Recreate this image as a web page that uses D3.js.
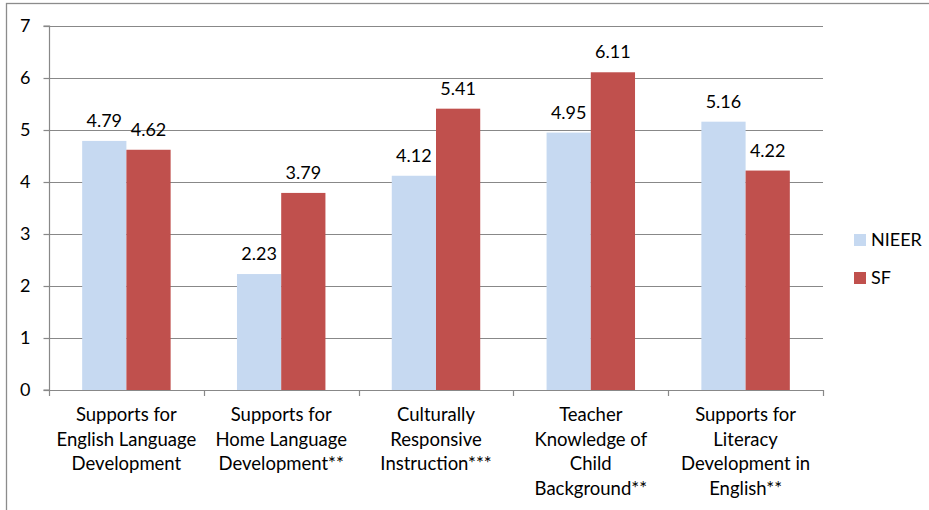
<!DOCTYPE html>
<html>
<head>
<meta charset="utf-8">
<script src="https://cdn.jsdelivr.net/npm/d3@7/dist/d3.min.js"></script>
<style>
  html, body { margin: 0; padding: 0; background: #fff; }
  svg { display: block; font-family: Lato, "Open Sans", sans-serif; }
</style>
</head>
<body>
<svg id="chart" width="929" height="510"></svg>
<script>
// Category labels, pre-wrapped into lines
const categories = [
  ["Supports for", "English Language", "Development"],
  ["Supports for", "Home Language", "Development**"],
  ["Culturally", "Responsive", "Instruction***"],
  ["Teacher", "Knowledge of", "Child", "Background**"],
  ["Supports for", "Literacy", "Development in", "English**"]
];
const seriesNames = ["NIEER", "SF"];
const nieerValues = [4.79, 2.23, 4.12, 4.95, 5.16];
const sfValues = [4.62, 3.79, 5.41, 6.11, 4.22];
const yTicks = [0, 1, 2, 3, 4, 5, 6, 7];
const colors = ["#c6d9f1", "#c0504d"];

const svg = d3.select("#chart");
const plot = { left: 49, right: 823, top: 26, bottom: 390 };
const fontSize = 18;
const catFontSize = 18.5;
const gridColor = "#888888";

// Outer frame (left and top edges visible)
svg.append("rect")
  .attr("x", 6.5).attr("y", 3.5)
  .attr("width", 1000).attr("height", 600)
  .attr("fill", "none").attr("stroke", "#8c8c8c").attr("stroke-width", 1.3);

const catKeys = categories.map((c, i) => i);
const x = d3.scaleBand().domain(catKeys).range([plot.left, plot.right]).padding(0);
const xInner = d3.scaleBand().domain(seriesNames).range([0, x.bandwidth()])
  .paddingInner(0).paddingOuter(0.75);
const y = d3.scaleLinear().domain([0, 7]).range([plot.bottom, plot.top]);

// Horizontal gridlines
svg.append("g").selectAll("line").data(yTicks.filter(t => t > 0)).join("line")
  .attr("x1", plot.left).attr("x2", plot.right)
  .attr("y1", d => Math.round(y(d)) + 0.5).attr("y2", d => Math.round(y(d)) + 0.5)
  .attr("stroke", gridColor).attr("stroke-width", 1.2);

// Bars
const rows = catKeys.map(i => ({ i, vals: [nieerValues[i], sfValues[i]] }));
const groups = svg.append("g").selectAll("g").data(rows).join("g")
  .attr("transform", d => `translate(${x(d.i)},0)`);
groups.selectAll("rect").data(d => d.vals.map((v, k) => ({ v, k }))).join("rect")
  .attr("x", d => xInner(seriesNames[d.k]))
  .attr("width", xInner.bandwidth())
  .attr("y", d => y(d.v))
  .attr("height", d => y(0) - y(d.v))
  .attr("fill", d => colors[d.k]);

// Value labels
groups.selectAll("text").data(d => d.vals.map((v, k) => ({ v, k }))).join("text")
  .attr("x", d => xInner(seriesNames[d.k]) + xInner.bandwidth() / 2)
  .attr("y", d => y(d.v) - 14)
  .attr("text-anchor", "middle")
  .attr("font-size", fontSize)
  .attr("fill", "#000")
  .text(d => d.v.toFixed(2));

// Y axis
const yAxis = d3.axisLeft(y).tickValues(yTicks).tickSize(6).tickPadding(13).tickFormat(d3.format("d"));
const gy = svg.append("g").attr("transform", `translate(${plot.left + 0.5},0)`).call(yAxis);
gy.select(".domain").attr("stroke", gridColor).attr("stroke-width", 1.2).attr("d", `M-6,${plot.top}H0V${plot.bottom}H-6`);
gy.selectAll(".tick line").attr("stroke", gridColor).attr("stroke-width", 1.2);
gy.selectAll(".tick text").attr("font-size", fontSize).attr("font-family", "Lato, sans-serif").attr("fill", "#000");

// X axis baseline with ticks at category boundaries
const gx = svg.append("g");
gx.append("line")
  .attr("x1", plot.left).attr("x2", plot.right)
  .attr("y1", plot.bottom + 0.5).attr("y2", plot.bottom + 0.5)
  .attr("stroke", gridColor).attr("stroke-width", 1.2);
const boundaries = catKeys.map(i => x(i)).concat([x(catKeys[catKeys.length - 1]) + x.bandwidth()]);
gx.selectAll("line.tick").data(boundaries).join("line")
  .attr("class", "tick")
  .attr("x1", d => Math.round(d) + 0.5).attr("x2", d => Math.round(d) + 0.5)
  .attr("y1", plot.bottom).attr("y2", plot.bottom + 6)
  .attr("stroke", gridColor).attr("stroke-width", 1.2);

// Category labels
gx.selectAll("text.cat").data(categories.map((lines, i) => ({ lines, i }))).join("text")
  .attr("class", "cat")
  .attr("text-anchor", "middle")
  .attr("font-size", catFontSize)
  .attr("fill", "#000")
  .each(function (d) {
    const t = d3.select(this);
    d.lines.forEach((ln, j) => {
      t.append("tspan")
        .attr("x", x(d.i) + x.bandwidth() / 2)
        .attr("y", 421 + j * 24.6)
        .text(ln);
    });
  });

// Legend
const legend = svg.append("g").attr("transform", "translate(854,0)");
const legendY = [240, 278];
seriesNames.forEach((name, k) => {
  legend.append("rect")
    .attr("x", 0).attr("y", legendY[k] - 6)
    .attr("width", 12).attr("height", 12)
    .attr("fill", colors[k]);
  legend.append("text")
    .attr("x", 17).attr("y", legendY[k] + 6)
    .attr("font-size", fontSize)
    .attr("fill", "#000")
    .text(name);
});
</script>
</body>
</html>
